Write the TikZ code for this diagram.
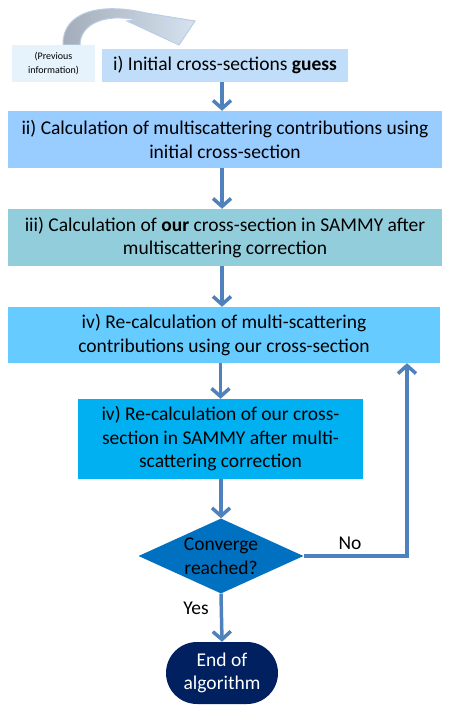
\documentclass[tikz,border=0pt]{standalone}
\usepackage{fontspec}
\setmainfont{Carlito}
\usetikzlibrary{arrows.meta,shapes.geometric,calc}
\definecolor{arrowblue}{HTML}{4F81BD}
\definecolor{cprev}{HTML}{E6F3FD}
\definecolor{cone}{HTML}{C0DEF9}
\definecolor{ctwo}{HTML}{99CCFF}
\definecolor{cthree}{HTML}{92CDDC}
\definecolor{cfour}{HTML}{66CCFF}
\definecolor{cfive}{HTML}{00B0F0}
\definecolor{cdia}{HTML}{0070C0}
\definecolor{cend}{HTML}{002060}
\definecolor{cgray}{HTML}{A3ACB8}
\definecolor{clight}{HTML}{D6E2F0}
\definecolor{cedge}{HTML}{B9CDE5}
\begin{document}
\begin{tikzpicture}[x=1pt,y=-1pt,
  txt/.style={font=\fontsize{19.5}{23.5}\selectfont, text=black, align=center},
  stepbox/.style={txt, draw=none, inner sep=0pt},
  flow/.style={draw=arrowblue, line width=3.5pt, -{Straight Barb[length=8pt,width=18pt]}},
  lbl/.style={font=\fontsize{19.5}{23}\selectfont, text=black, inner sep=0pt}]
\useasboundingbox (0,0) rectangle (452,709);
% curved block arrow
\path[left color=cgray, right color=clight, draw=cedge, line width=1pt]
  (63,45) .. controls (62,12) and (100,2) .. (146,13)
  -- (195,21) -- (179,45) -- (127,21) -- (137,20)
  .. controls (105,13) and (80,24) .. (80,45) -- cycle;
\node[stepbox, fill=cprev, minimum width=83pt, minimum height=37pt,
  font=\fontsize{10}{13.5}\selectfont] (prev) at (53.5,63.5) {(Previous\\information)};
\node[stepbox, fill=cone, minimum width=246pt, minimum height=33pt] (b1) at (225,65.5)
  {i) Initial cross-sections \textbf{guess}};
\node[stepbox, fill=ctwo, minimum width=434pt, minimum height=57pt] (b2) at (225,139.5)
  {ii) Calculation of multiscattering contributions using\\initial cross-section};
\node[stepbox, fill=cthree, minimum width=434pt, minimum height=57pt] (b3) at (225,237.5)
  {iii) Calculation of \textbf{our} cross-section in SAMMY after\\multiscattering correction};
\node[stepbox, fill=cfour, minimum width=432pt, minimum height=56pt] (b4) at (224,335)
  {iv) Re-calculation of multi-scattering\\contributions using our cross-section};
\node[stepbox, fill=cfive, minimum width=285pt, minimum height=80pt] (b5) at (220.5,439)
  {iv) Re-calculation of our cross-\\section in SAMMY after multi-\\scattering correction};
\node[txt, diamond, fill=cdia, aspect=2.2, inner sep=0pt, minimum width=165pt,
  minimum height=75pt] (dia) at (221,556) {Converge\\reached?};
\node[txt, fill=cend, text=white, rounded corners=31pt, inner sep=0pt,
  minimum width=112pt, minimum height=62pt] (end) at (222,673) {End of\\algorithm};
\coordinate (col) at (222,0);
\coordinate (loopx) at (407,0);
\draw[flow] (b1.south -| col) -- (b2.north -| col);
\draw[flow] (b2.south -| col) -- (b3.north -| col);
\draw[flow] (b3.south -| col) -- (b4.north -| col);
\draw[flow] (b4.south -| b5.north) -- (b5.north);
\draw[flow] (b5.south -| dia.north) -- (dia.north);
\draw[flow] (dia.south) -- (end.north);
\draw[flow] (dia.east) -| (b4.south -| loopx);
\node[lbl] (no) at (350,543) {No};
\node[lbl] (yes) at (196,608) {Yes};
\end{tikzpicture}
\end{document}
